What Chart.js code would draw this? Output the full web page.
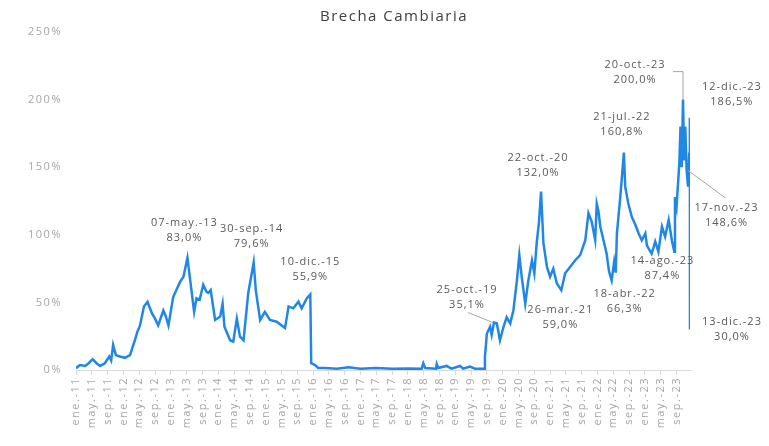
<!DOCTYPE html>
<html lang="es">
<head>
<meta charset="utf-8">
<title>Brecha Cambiaria</title>
<script src="https://cdn.jsdelivr.net/npm/chart.js@4.4.1/dist/chart.umd.min.js"></script>
<style>
    html, body { margin: 0; padding: 0; background: #fff; }
</style>
</head>
<body>
<canvas id="grafico-brecha" width="769" height="446"></canvas>
<script>
// ── 1. DATOS ──────────────────────────────────
const fechas = [
    '2011-01-01','2011-02-01','2011-03-10','2011-04-07','2011-05-07','2011-06-07','2011-07-04','2011-08-10',
    '2011-09-13','2011-09-28','2011-10-13','2011-11-04','2011-12-04','2012-01-13','2012-02-21','2012-03-28',
    '2012-04-16','2012-05-07','2012-06-07','2012-07-04','2012-08-07','2012-09-01','2012-09-25','2012-11-04',
    '2012-11-22','2012-12-13','2013-01-19','2013-03-10','2013-04-07','2013-05-07','2013-05-28','2013-06-28',
    '2013-07-16','2013-08-10','2013-09-07','2013-10-01','2013-10-16','2013-11-04','2013-12-07','2014-01-16',
    '2014-02-04','2014-02-18','2014-04-01','2014-04-25','2014-05-22','2014-06-16','2014-07-13','2014-08-19',
    '2014-09-30','2014-10-16','2014-11-19','2014-12-25','2015-02-04','2015-03-25','2015-05-28','2015-06-25',
    '2015-08-01','2015-09-10','2015-10-04','2015-11-13','2015-12-10','2015-12-17','2016-01-16','2016-02-10',
    '2016-04-01','2016-07-01','2016-10-01','2017-01-01','2017-05-01','2017-09-01','2018-01-01','2018-04-16',
    '2018-04-28','2018-05-13','2018-08-04','2018-08-10','2018-08-22','2018-10-25','2018-12-01','2019-02-07',
    '2019-03-01','2019-04-22','2019-06-01','2019-08-09','2019-08-16','2019-09-01','2019-09-25','2019-10-07',
    '2019-10-25','2019-11-16','2019-12-10','2020-01-07','2020-02-01','2020-02-28','2020-03-22','2020-04-19',
    '2020-05-07','2020-05-25','2020-06-22','2020-07-16','2020-08-13','2020-09-01','2020-09-19','2020-10-07',
    '2020-10-22','2020-11-10','2020-12-07','2021-01-01','2021-01-25','2021-02-22','2021-03-26','2021-04-25',
    '2021-06-01','2021-07-10','2021-08-19','2021-09-28','2021-10-22','2021-11-16','2021-12-13','2021-12-25',
    '2022-01-07','2022-01-22','2022-02-16','2022-03-10','2022-03-28','2022-04-18','2022-05-07','2022-05-19',
    '2022-05-28','2022-06-22','2022-07-21','2022-08-01','2022-08-25','2022-09-22','2022-10-16','2022-11-13',
    '2022-12-07','2023-01-04','2023-01-16','2023-02-22','2023-03-19','2023-04-13','2023-05-10','2023-06-04',
    '2023-07-01','2023-07-25','2023-08-14','2023-08-19','2023-09-01','2023-09-22','2023-10-01','2023-10-10',
    '2023-10-20','2023-10-28','2023-11-07','2023-11-17','2023-11-28','2023-12-07','2023-12-12','2023-12-13'
];
const brecha = [
    1.3, 3.7, 3, 5, 8, 5, 3, 5,
    10, 7, 18.5, 11, 10, 9, 11, 22,
    28, 33, 47, 50.5, 42, 38, 33, 44,
    40, 33, 54, 65, 69, 83.0, 66.5, 43,
    53, 52, 63, 58, 57, 59, 37, 39.5,
    49, 32, 22, 21, 38, 24.6, 22, 57,
    79.6, 59, 37, 43, 37, 35.7, 31, 47,
    45.6, 50.5, 45.6, 53, 55.9, 5, 3.7, 1.5,
    1.5, 1, 2, 1, 1.5, 1, 1.2, 1,
    5, 1.5, 1, 4.5, 1.5, 3, 1, 3,
    1, 2.5, 1, 1, 10, 27, 32, 26,
    35.1, 34.5, 22, 32, 39, 34.5, 44, 66.5,
    85, 69, 49, 66.5, 81, 71.5, 94, 110,
    132.0, 94, 76, 69, 75, 64, 59.0, 71.5,
    76, 81, 85, 96, 116, 110, 96, 123,
    118, 106, 96, 86, 73, 66.3, 80, 72,
    101, 126, 160.8, 135.6, 123, 113, 108, 101,
    96, 101, 92, 86, 95, 87.5, 106, 98.6,
    111, 96, 87.4, 128, 121, 153, 180, 150,
    200.0, 155, 180, 148.6, 135.6, 160, 186.5, 30.0
];
const etiquetasX = [
    'ene.-11','may.-11','sep.-11','ene.-12','may.-12','sep.-12','ene.-13','may.-13','sep.-13',
    'ene.-14','may.-14','sep.-14','ene.-15','may.-15','sep.-15','ene.-16','may.-16','sep.-16',
    'ene.-17','may.-17','sep.-17','ene.-18','may.-18','sep.-18','ene.-19','may.-19','sep.-19',
    'ene.-20','may.-20','sep.-20','ene.-21','may.-21','sep.-21','ene.-22','may.-22','sep.-22',
    'ene.-23','may.-23','sep.-23'
];
const ticksY = [0, 50, 100, 150, 200, 250];
// fechas destacadas con su etiqueta
const destacados = [
    '2013-05-07','2014-09-30','2015-12-10','2019-10-25','2020-10-22','2021-03-26','2022-04-18',
    '2022-07-21','2023-08-14','2023-10-20','2023-12-12','2023-11-17','2023-12-13'
];

// ── 2. UTILIDADES ─────────────────────────────
const MESES = ['ene.','feb.','mar.','abr.','may.','jun.','jul.','ago.','sep.','oct.','nov.','dic.'];
const mesIndice = (f) => {
    const [a, m, d] = f.split('-').map(Number);
    return (a - 2011) * 12 + (m - 1) + (d - 1) / 30;
};
const fechaTexto = (f) => {
    const [a, m, d] = f.split('-');
    return `${d}-${MESES[Number(m) - 1]}-${a.slice(2)}`;
};
const pctTexto = (v) => v.toFixed(1).replace('.', ',') + '%';

// posición de cada etiqueta respecto del punto (dx, dy) y líneas guía
const posEtiquetas = {
    '2013-05-07': { dx: -3, dy: -35 },
    '2014-09-30': { dx: -2, dy: -34 },
    '2015-12-10': { dx: 0, dy: -33 },
    '2019-10-25': { dx: -27, dy: -33, guia: [[-26, -10], [-1, 0]] },
    '2020-10-22': { dx: -3, dy: -34 },
    '2021-03-26': { dx: -1, dy: 20 },
    '2022-04-18': { dx: 13, dy: 13 },
    '2022-07-21': { dx: -2, dy: -36 },
    '2023-08-14': { dx: -12, dy: 9 },
    '2023-10-20': { dx: -48, dy: -35, guia: [[-10, -28], [0, -28], [0, 0]] },
    '2023-12-12': { dx: 42, dy: -31 },
    '2023-11-17': { dx: 40, dy: 39, guia: [[1, 1], [39, 29]] },
    '2023-12-13': { dx: 42, dy: -8 }
};

const FUENTE = "'Open Sans', 'DejaVu Sans', sans-serif";

// ── 3. PLUGINS ────────────────────────────────
// el original tiene el texto algo más espaciado
const espaciado = {
    id: 'espaciado',
    beforeDraw(chart) { chart.ctx.letterSpacing = '1.5px'; }
};

const anotaciones = {
    id: 'anotaciones',
    afterDatasetsDraw(chart) {
        const { ctx, scales: { x, y } } = chart;
        ctx.save();

        // título
        ctx.fillStyle = '#404040';
        ctx.font = `15px ${FUENTE}`;
        ctx.letterSpacing = '1.5px';
        ctx.textAlign = 'center';
        ctx.textBaseline = 'middle';
        ctx.fillText('Brecha Cambiaria', 394, 17);

        ctx.font = `11px ${FUENTE}`;
        ctx.letterSpacing = '1px';
        destacados.forEach(f => {
            const i = fechas.indexOf(f);
            const px = x.getPixelForValue(mesIndice(f));
            const py = y.getPixelForValue(brecha[i]);
            const p = posEtiquetas[f];

            if (p.guia) {
                ctx.strokeStyle = '#a6a6a6';
                ctx.lineWidth = 1;
                ctx.beginPath();
                p.guia.forEach(([gx, gy], k) => {
                    if (k === 0) ctx.moveTo(px + gx, py + gy);
                    else ctx.lineTo(px + gx, py + gy);
                });
                ctx.stroke();
            }

            ctx.fillStyle = '#595959';
            ctx.fillText(fechaTexto(f), px + p.dx, py + p.dy);
            ctx.fillText(pctTexto(brecha[i]), px + p.dx, py + p.dy + 15);
        });
        ctx.restore();
    }
};

// ── 4. GRÁFICO ────────────────────────────────
const ctxBrecha = document.getElementById('grafico-brecha');
new Chart(ctxBrecha, {
    type: 'line',
    data: {
        datasets: [{
            label: 'Brecha Cambiaria',
            data: fechas.map((f, i) => ({ x: mesIndice(f), y: brecha[i] })),
            borderColor: '#2187e7',
            borderWidth: 2.5,
            pointRadius: 0,
            tension: 0,
            fill: false
        }]
    },
    options: {
        responsive: false,
        animation: false,
        devicePixelRatio: 1,
        layout: { padding: { top: 32, right: 79, bottom: 0, left: 0 } },
        plugins: {
            legend: { display: false },
            tooltip: { enabled: false },
            title: { display: false }
        },
        scales: {
            x: {
                type: 'linear',
                min: 0,
                max: mesIndice('2023-12-13'),
                afterBuildTicks: (eje) => { eje.ticks = etiquetasX.map((_, i) => ({ value: i * 4 })); },
                afterFit: (eje) => { eje.height = 76; },
                ticks: {
                    autoSkip: false,
                    minRotation: 90,
                    maxRotation: 90,
                    padding: 2,
                    color: '#a6a6a6',
                    font: { family: FUENTE, size: 11 },
                    callback: (v) => etiquetasX[Math.round(v / 4)]
                },
                grid: { drawOnChartArea: false, drawTicks: true, tickLength: 5, color: '#d9d9d9' },
                border: { display: true, color: '#d9d9d9' }
            },
            y: {
                min: 0,
                max: 250,
                afterBuildTicks: (eje) => { eje.ticks = ticksY.map(v => ({ value: v })); },
                afterFit: (eje) => { eje.width = 76; },
                ticks: {
                    padding: 14,
                    color: '#a6a6a6',
                    font: { family: FUENTE, size: 11 },
                    callback: (v) => v + '%'
                },
                grid: { display: false, drawTicks: false },
                border: { display: false }
            }
        }
    },
    plugins: [espaciado, anotaciones]
});
</script>
</body>
</html>
